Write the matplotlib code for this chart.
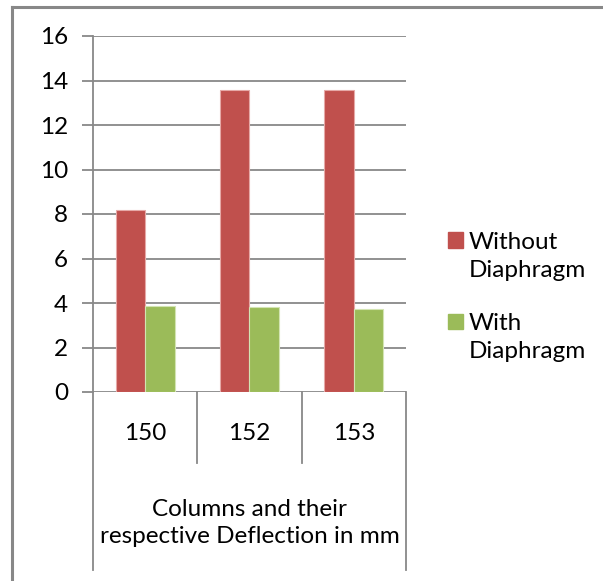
import matplotlib
matplotlib.use("Agg")
import matplotlib.pyplot as plt
from matplotlib.lines import Line2D
from matplotlib.patches import Rectangle
import numpy as np

# deflection data (mm)
columns = ["150", "152", "153"]
series_names = ["Without\nDiaphragm", "With\nDiaphragm"]
without_diaphragm = [8.2, 13.57, 13.57]
with_diaphragm = [3.88, 3.81, 3.74]
yticks = [0, 2, 4, 6, 8, 10, 12, 14, 16]
axis_title = "Columns and their\nrespective Deflection in mm"

colors = ["#C0504D", "#9BBB59"]
edges = ["#E6A9A7", "#D3E4B3"]
grid_color = "#888888"
fs = 17.5

plt.rcParams["font.family"] = ["Lato", "DejaVu Sans"]

W, H = 603, 581
fig = plt.figure(figsize=(W / 100, H / 100), dpi=100)

# plot area in pixels
x0, x1, y_top, y_bot = 93, 406, 36, 392
ax = fig.add_axes([x0 / W, 1 - y_bot / H, (x1 - x0) / W, (y_bot - y_top) / H])

x = np.arange(len(columns))
bw = 0.282
ax.bar(x - bw / 2, without_diaphragm, bw, color=colors[0], edgecolor=edges[0], linewidth=0.8, zorder=3)
ax.bar(x + bw / 2, with_diaphragm, bw, color=colors[1], edgecolor=edges[1], linewidth=0.8, zorder=3)

ax.set_xlim(-0.5, len(columns) - 0.5)
ax.set_ylim(0, 16)
ax.set_yticks(yticks)
ax.set_yticklabels([str(v) for v in yticks], fontsize=fs)
ax.tick_params(axis="y", length=8, width=1.3, color=grid_color, pad=10)
ax.set_xticks([])
ax.yaxis.grid(True, color=grid_color, linewidth=1.3, zorder=0)

for side in ["top", "right", "bottom"]:
    ax.spines[side].set_visible(False)
ax.spines["left"].set_color(grid_color)
ax.spines["left"].set_linewidth(1.3)

# category boxes below the axis
span = y_bot - y_top
tr = ax.get_xaxis_transform()
inner = (392 - 463) / span
outer = (392 - 570) / span
ax.add_line(Line2D([-0.5, -0.5], [0, outer], transform=tr, color=grid_color, lw=1.3, clip_on=False))
ax.add_line(Line2D([len(columns) - 0.5] * 2, [0, outer], transform=tr, color=grid_color, lw=1.3, clip_on=False))
for b in np.arange(0.5, len(columns) - 0.5):
    ax.add_line(Line2D([b, b], [0, inner], transform=tr, color=grid_color, lw=1.3, clip_on=False))
for i, c in enumerate(columns):
    ax.text(i, (392 - 433) / span, c, transform=tr, ha="center", va="center", fontsize=fs)
ax.text((len(columns) - 1) / 2, (392 - 523) / span, axis_title, transform=tr,
        ha="center", va="center", fontsize=fs, linespacing=1.3)

# legend
for i, name in enumerate(series_names):
    yc = [240, 321][i]
    fig.patches.append(Rectangle((448 / W, 1 - (yc + 7.5) / H), 15 / W, 15 / H,
                                 transform=fig.transFigure, color=colors[i]))
    fig.text(469 / W, 1 - (yc + 16.5) / H, name, ha="left", va="center", fontsize=fs, linespacing=1.45)

# outer chart border (top and left)
fig.add_artist(Line2D([12 / W, 1], [1 - 7 / H, 1 - 7 / H], transform=fig.transFigure, color="#888888", lw=2.2))
fig.add_artist(Line2D([12 / W, 12 / W], [0, 1 - 7 / H], transform=fig.transFigure, color="#888888", lw=2.2))

fig.savefig("out.png", dpi=100)
